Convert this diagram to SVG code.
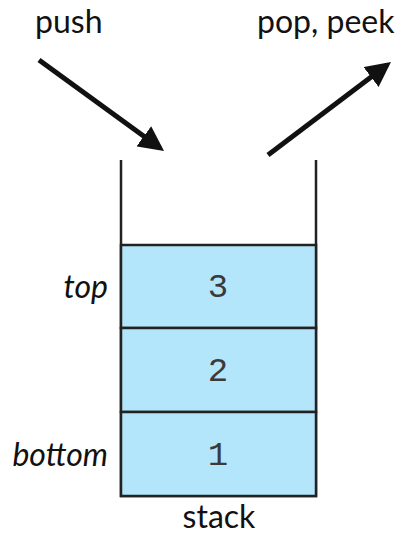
<svg xmlns="http://www.w3.org/2000/svg" width="413" height="547" viewBox="0 0 413 547">
<defs>
<style>
.lbl{font-family:Lato,"Open Sans",sans-serif;font-size:32px;fill:#111}
.it{font-style:italic}
.num{font-family:"Liberation Mono","DejaVu Sans Mono",monospace;font-size:34px;fill:#3a3a3a;text-anchor:middle}
.cell{fill:#b3e6fb;stroke:#222;stroke-width:2.5}
.wall{stroke:#222;stroke-width:2.5;fill:none}
.arr{stroke:#111;stroke-width:5;fill:none;marker-end:url(#ah)}
</style>
<marker id="ah" markerWidth="5" markerHeight="5" refX="4" refY="2.5" orient="auto" markerUnits="strokeWidth">
<path d="M0,0 L5,2.5 L0,5 Z" fill="#111"/>
</marker>
</defs>
<rect width="413" height="547" fill="#fff"/>
<g id="container">
<path class="wall" d="M121,160 V496 H316 V160"/>
</g>
<g id="cell3">
<rect class="cell" x="121" y="245" width="195" height="83"/>
<text class="num" x="218" y="297">3</text>
</g>
<g id="cell2">
<rect class="cell" x="121" y="328" width="195" height="84"/>
<text class="num" x="218" y="381">2</text>
</g>
<g id="cell1">
<rect class="cell" x="121" y="412" width="195" height="84"/>
<text class="num" x="218" y="465">1</text>
</g>
<g id="labels">
<text class="lbl" x="35" y="33">push</text>
<text class="lbl" x="257" y="33">pop, peek</text>
<text class="lbl it" x="108" y="298" text-anchor="end">top</text>
<text class="lbl it" x="108" y="466" text-anchor="end">bottom</text>
<text class="lbl" x="219" y="528" text-anchor="middle">stack</text>
</g>
<g id="connectors">
<path class="arr" d="M39,60 L160,148"/>
<path class="arr" d="M268,155 L387,65"/>
</g>
</svg>
